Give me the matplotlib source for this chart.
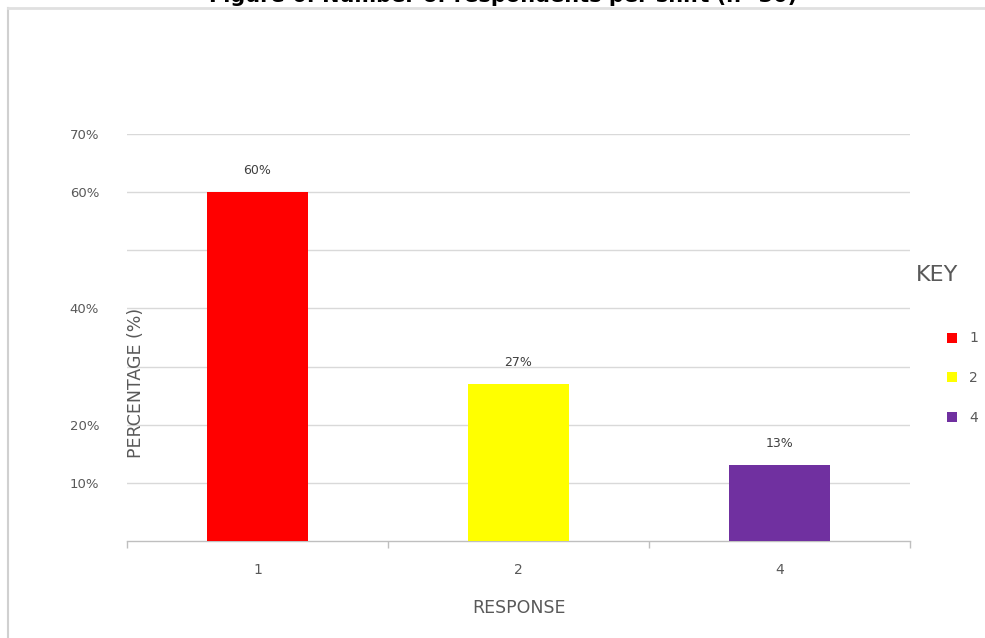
import matplotlib.pyplot as plt
from matplotlib.patches import Patch
from matplotlib.lines import Line2D

responses = ['1', '2', '4']
percentages = [60, 27, 13]
bar_colors = ['#FF0000', '#FFFF00', '#7030A0']
ytick_values = [10, 20, 40, 60, 70]
grid_values = [10, 20, 30, 40, 50, 60, 70]

W, H = 985, 638
fig = plt.figure(figsize=(W / 100, H / 100), dpi=100)
fig.patch.set_facecolor('white')

# axes box in pixel terms
left, right, top, bottom = 127, 910, 134, 541
ax = fig.add_axes([left / W, 1 - bottom / H, (right - left) / W, (bottom - top) / H])

x = range(len(responses))
ax.bar(x, percentages, width=0.385, color=bar_colors, zorder=3)

for i, v in enumerate(percentages):
    ax.annotate(f'{v}%', (i, v), textcoords='offset points', xytext=(0, 11),
                ha='center', va='bottom', fontsize=9, color='#404040')

ax.set_xlim(-0.5, 2.5)
ax.set_ylim(0, 70)
for g in grid_values:
    ax.axhline(g, color='#d9d9d9', linewidth=1, zorder=1)

ax.set_yticks(ytick_values)
ax.set_yticklabels([f'{v}%' for v in ytick_values], fontsize=9.5, color='#595959')
ax.tick_params(axis='y', length=0, pad=20)

ax.set_xticks(list(x))
ax.set_xticklabels(responses, fontsize=10, color='#595959')
ax.set_xticks([-0.5, 0.5, 1.5, 2.5], minor=True)
ax.tick_params(axis='x', which='major', length=0, pad=16)
ax.tick_params(axis='x', which='minor', length=5, color='#bfbfbf', width=1)

for s in ['top', 'right', 'left']:
    ax.spines[s].set_visible(False)
ax.spines['bottom'].set_color('#bfbfbf')
ax.spines['bottom'].set_linewidth(1)

ax.set_xlabel('RESPONSE', fontsize=12.5, color='#595959', labelpad=16)
ax.text(0.0115, 0.388, 'PERCENTAGE (%)', transform=ax.transAxes, rotation=90,
        ha='center', va='center', fontsize=12.5, color='#595959')

# key on the right
fig.text(916 / W, 1 - 275 / H, 'KEY', fontsize=16, color='#595959', va='center', ha='left')
handles = [Patch(facecolor=c, edgecolor='none') for c in bar_colors]
leg = fig.legend(handles, responses, loc='upper left', bbox_to_anchor=(934 / W, 1 - 319 / H),
                 frameon=False, handlelength=0.75, handleheight=0.75, handletextpad=0.9,
                 labelspacing=1.85, fontsize=10)
for t in leg.get_texts():
    t.set_color('#595959')

# outer frame and clipped title
fig.add_artist(Line2D([8 / W, 8 / W], [0, 1 - 8 / H], color='#d0d0d0', linewidth=1.5))
fig.add_artist(Line2D([8 / W, 1], [1 - 8 / H, 1 - 8 / H], color='#e0e0e0', linewidth=2))
fig.text(503 / W, 1 + 4 / H, 'Figure 6: Number of respondents per shift (n=30)',
         ha='center', va='center', fontsize=15, fontweight='bold', color='black')

fig.savefig('out.png', dpi=100)
